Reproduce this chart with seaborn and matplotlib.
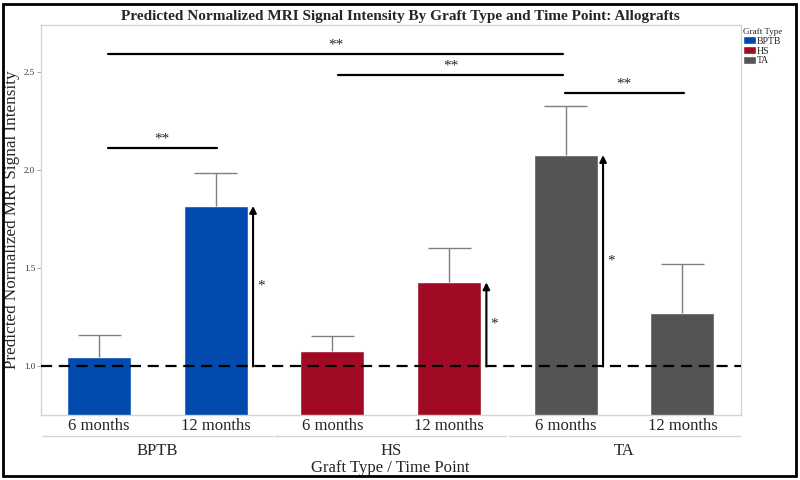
import matplotlib
matplotlib.use('Agg')
import matplotlib.pyplot as plt
import matplotlib.transforms as mtransforms
from matplotlib.patches import Rectangle
import pandas as pd
import seaborn as sns

# data
grafts = ['BPTB', 'BPTB', 'HS', 'HS', 'TA', 'TA']
times = ['6 months', '12 months', '6 months', '12 months', '6 months', '12 months']
means = [1.050, 1.817, 1.080, 1.428, 2.076, 1.274]
uppers = [1.160, 1.985, 1.155, 1.602, 2.326, 1.522]
group_names = ['BPTB', 'HS', 'TA']
colors = {'BPTB': '#034AAE', 'HS': '#A00A24', 'TA': '#545454'}

# significance brackets (start index, end index, height)
sig_x0 = [0.075, 2.05, 3.99, 0.075]
sig_x1 = [3.98, 3.98, 5.01, 1.01]
sig_y = [2.590, 2.482, 2.390, 2.110]
sig_text = ['**', '**', '**', '**']
# arrows from baseline to bar (bar index)
arrow_idx = [1, 3, 4]
baseline = 1.0

df = pd.DataFrame({'graft': grafts, 'time': times, 'value': means, 'upper': uppers})
df['cond'] = df['graft'] + ' ' + df['time']

sns.set_style('white')
plt.rcParams['font.family'] = ['Liberation Serif', 'DejaVu Serif']

fig = plt.figure(figsize=(8, 4.8), dpi=100)
ax = fig.add_axes([0.0509, 0.1354, 0.8750, 0.8125])

sns.barplot(data=df, x='cond', y='value', hue='graft', palette=colors,
            dodge=False, width=0.55, ax=ax, errorbar=None, saturation=1)

# upper error bars only
xs = list(range(len(df)))
ax.vlines(xs, df['value'], df['upper'], color='#7f7f7f', linewidth=1, zorder=3)
ax.hlines(df['upper'], [x - 0.184 for x in xs], [x + 0.184 for x in xs],
          color='#7f7f7f', linewidth=1, zorder=3)

# reference line at 1.0
ax.axhline(baseline, color='black', linestyle=(0, (5, 3)), linewidth=1.6, zorder=4)

# significance brackets
for x0, x1, y, t in zip(sig_x0, sig_x1, sig_y, sig_text):
    ax.plot([x0, x1], [y, y], color='black', linewidth=1.6, zorder=4)
    ax.text((x0 + x1) / 2, y + 0.012, t, ha='center', va='bottom', fontsize=11)

# arrows from baseline to bar tops
for i in arrow_idx:
    ax.annotate('', xy=(i + 0.32, df['value'][i]), xytext=(i + 0.32, baseline),
                arrowprops=dict(arrowstyle='-|>', color='black', lw=1.5,
                                mutation_scale=10, shrinkA=0, shrinkB=0), zorder=5)
    ax.text(i + 0.385, (df['value'][i] + baseline) / 2, '*', ha='center', va='center',
            fontsize=11)

ax.set_xlim(-0.5, 5.5)
ax.set_ylim(0.753, 2.738)
ax.set_yticks([1.0, 1.5, 2.0, 2.5])
ax.set_yticklabels(['1.0', '1.5', '2.0', '2.5'], fontsize=6.5, color='#333333')
ax.set_xticks(xs)
ax.set_xticklabels(times, fontsize=12)
ax.tick_params(axis='x', length=0, pad=2)
ax.tick_params(axis='y', length=3, width=0.6, color='#999999', pad=1, left=True)
for s in ax.spines.values():
    s.set_color('#d4d4d4')
    s.set_linewidth(1)

ax.set_xlabel('')
ax.set_ylabel('Predicted Normalized MRI Signal Intensity', fontsize=12.3)
ax.yaxis.set_label_coords(-0.029, 0.5)

# group labels below the tick labels
trans = mtransforms.blended_transform_factory(ax.transData, ax.transAxes)
for g, name in enumerate(group_names):
    ax.plot([2 * g - 0.5 + 0.01, 2 * g + 1.5 - 0.01], [-0.054, -0.054], color='#d4d4d4',
            linewidth=1, transform=trans, clip_on=False)
    ax.text(2 * g + 0.5, -0.092, name, transform=trans, ha='center', va='center', fontsize=12)
ax.text(0.5, -0.135, 'Graft Type / Time Point', transform=ax.transAxes, ha='center',
        va='center', fontsize=12)

fig.text(0.5, 0.966, 'Predicted Normalized MRI Signal Intensity By Graft Type and Time Point: Allografts',
         ha='center', va='center', fontsize=11, fontweight='bold')

sns.move_legend(ax, loc='upper left', bbox_to_anchor=(0.929, 0.942),
                bbox_transform=fig.transFigure, title='Graft Type', frameon=False,
                fontsize=7, title_fontsize=6.5, handlelength=1.3, handleheight=0.9,
                handletextpad=0.05, labelspacing=0.05, borderaxespad=0, borderpad=0)
leg = ax.get_legend()
leg._legend_box.align = 'left'

fig.patches.append(Rectangle((0.004, 0.008), 0.991, 0.983, transform=fig.transFigure,
                             fill=False, edgecolor='black', linewidth=2))

fig.savefig('out.png', dpi=100)
